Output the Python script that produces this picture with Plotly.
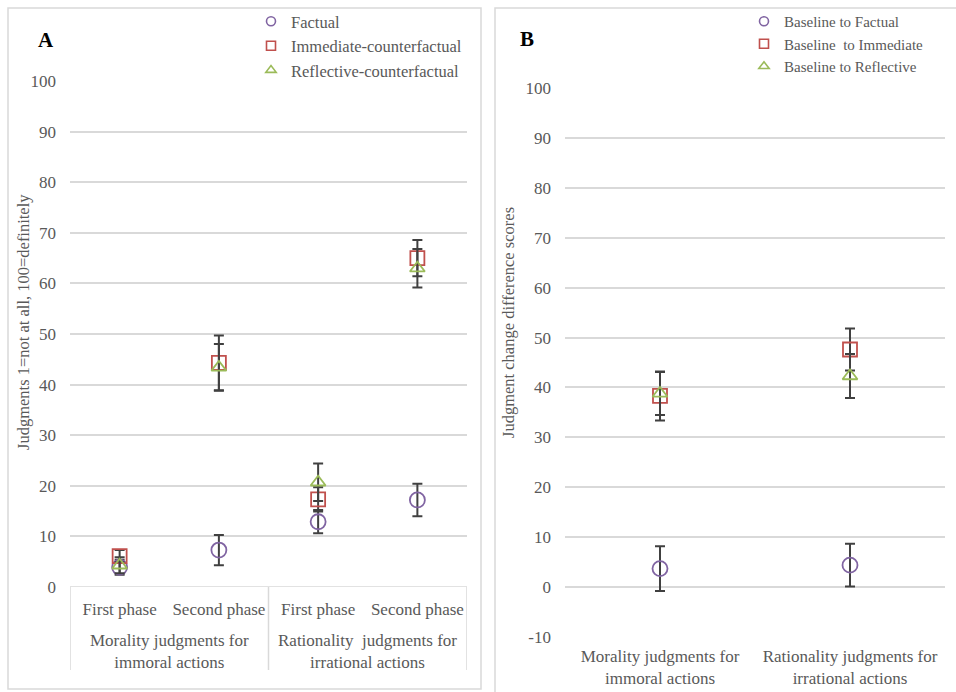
import plotly.graph_objects as go

# ---------------- data ----------------
A_ticks = ["First phase", "Second phase", "First phase", "Second phase"]
A_groups = ["Morality judgments for<br>immoral actions",
            "Rationality  judgments for<br>irrational actions"]
A_factual = [3.9, 7.3, 12.9, 17.2]
A_factual_err = [1.5, 3.0, 2.3, 3.2]
A_immediate = [6.1, 44.3, 17.3, 65.0]
A_immediate_err = [1.2, 5.4, 2.4, 3.6]
A_reflective = [4.3, 43.4, 20.7, 63.0]
A_reflective_err = [1.6, 4.6, 3.7, 3.8]
A_names = ["Factual", "Immediate-counterfactual", "Reflective-counterfactual"]

B_ticks = ["Morality judgments for<br>immoral actions", "Rationality judgments for<br>irrational actions"]
B_factual = [3.7, 4.4]
B_factual_err = [4.5, 4.3]
B_immediate = [38.3, 47.6]
B_immediate_err = [4.9, 4.2]
B_reflective = [38.8, 42.3]
B_reflective_err = [4.3, 4.4]
B_names = ["Baseline to Factual", "Baseline  to Immediate", "Baseline to Reflective"]

y_ticks_A = list(range(0, 101, 10))
y_ticks_B = list(range(-10, 101, 10))

# ---------------- style ----------------
W, H = 956, 692
FONT = "Liberation Serif"
GRAY = "#595959"
GRID = "#d9d9d9"
COLORS = ["#8064A2", "#C0504D", "#9BBB59"]
SYMBOLS = ["circle-open", "square-open", "triangle-up-open"]
SIZES = [15, 14, 13]
ERRC = "#404040"
TS = 17


def px(x):
    return x / W


def py(y):
    return 1 - y / H


fig = go.Figure()

A_x = list(range(len(A_ticks)))
B_x = list(range(len(B_ticks)))

A_series = [(A_factual, A_factual_err), (A_immediate, A_immediate_err), (A_reflective, A_reflective_err)]
B_series = [(B_factual, B_factual_err), (B_immediate, B_immediate_err), (B_reflective, B_reflective_err)]

for panel, series, names, xs, xa, ya, lg in [
    ("A", A_series, A_names, A_x, "x", "y", "legend"),
    ("B", B_series, B_names, B_x, "x2", "y2", "legend2"),
]:
    for i, (vals, errs) in enumerate(series):
        fig.add_trace(go.Scatter(
            x=xs, y=vals, mode="markers", name=names[i], showlegend=False,
            marker=dict(symbol=SYMBOLS[i], size=SIZES[i], color=COLORS[i],
                        line=dict(width=1.8, color=COLORS[i])),
            error_y=dict(type="data", array=errs, visible=True, color=ERRC, thickness=2, width=5),
            xaxis=xa, yaxis=ya,
        ))
    # legend entries (small symbols, no data)
    for i in range(len(series)):
        fig.add_trace(go.Scatter(
            x=[None], y=[None], mode="markers", name=names[i], showlegend=True,
            marker=dict(symbol=SYMBOLS[i], size=9, color=COLORS[i],
                        line=dict(width=1.6, color=COLORS[i])),
            xaxis=xa, yaxis=ya, legend=lg,
        ))

axis_font = dict(family=FONT, size=TS, color=GRAY)

fig.update_layout(
    width=W, height=H,
    margin=dict(l=0, r=0, t=0, b=0, pad=0, autoexpand=False),
    paper_bgcolor="white", plot_bgcolor="white",
    font=dict(family=FONT, color=GRAY),
    xaxis=dict(domain=[px(70), px(467)], range=[-0.5, len(A_ticks) - 0.5],
               tickvals=A_x, ticktext=A_ticks, tickfont=axis_font,
               showgrid=False, zeroline=False, showline=False, ticks="",
               ticklabelstandoff=10, automargin=False),
    yaxis=dict(domain=[py(587), py(81)], range=[0, 100], tickvals=y_ticks_A,
               ticktext=[str(v) for v in y_ticks_A],
               tickfont=axis_font, gridcolor=GRID, gridwidth=1.5, zeroline=False,
               showline=False, ticks="", ticklabelstandoff=13, anchor="x", automargin=False),
    xaxis2=dict(domain=[px(565), px(945)], range=[-0.5, len(B_ticks) - 0.5],
                tickvals=B_x, ticktext=B_ticks, tickfont=axis_font,
                showgrid=False, zeroline=False, showline=False, ticks="",
                ticklabelstandoff=7, anchor="y2", automargin=False),
    yaxis2=dict(domain=[py(637), py(88)], range=[-10, 100], tickvals=y_ticks_B,
                ticktext=[str(v) for v in y_ticks_B],
                tickfont=axis_font, gridcolor=GRID, gridwidth=1.5, zeroline=False,
                showline=False, ticks="", ticklabelstandoff=13, anchor="x2", automargin=False),
    legend=dict(x=px(251), y=py(4), xanchor="left", yanchor="top",
                font=dict(family=FONT, size=16.5, color=GRAY), tracegroupgap=0,
                bgcolor="rgba(0,0,0,0)", itemsizing="trace"),
    legend2=dict(x=px(744), y=py(5), xanchor="left", yanchor="top",
                 font=dict(family=FONT, size=15, color=GRAY), tracegroupgap=0,
                 bgcolor="rgba(0,0,0,0)", itemsizing="trace"),
    showlegend=True,
)

shapes = []
# panel borders
shapes.append(dict(type="rect", xref="paper", yref="paper", x0=px(8), x1=px(481), y0=py(689), y1=py(8),
                   line=dict(color=GRID, width=1.5)))
shapes.append(dict(type="rect", xref="paper", yref="paper", x0=px(495), x1=px(1000), y0=py(720), y1=py(8),
                   line=dict(color=GRID, width=1.5)))
# multi-category box for panel A
shapes.append(dict(type="line", xref="x", yref="y", x0=-0.5, x1=len(A_ticks) - 0.5, y0=0, y1=0,
                   line=dict(color=GRID, width=1.5)))
for xv in [-0.5, 1.5, 3.5]:
    shapes.append(dict(type="line", xref="x", yref="paper", x0=xv, x1=xv, y0=py(670), y1=py(587),
                       line=dict(color=GRID, width=1.5)))
fig.update_layout(shapes=shapes)

annotations = []
for gi, g in enumerate(A_groups):
    annotations.append(dict(text=g, xref="x", yref="paper", x=gi * 2 + 0.5, y=py(651),
                            showarrow=False, font=dict(family=FONT, size=TS, color=GRAY),
                            yanchor="middle", xanchor="center"))
annotations.append(dict(text="<b>A</b>", xref="paper", yref="paper", x=px(46), y=py(40),
                        xanchor="center", yanchor="middle",
                        showarrow=False, font=dict(family=FONT, size=21, color="black")))
annotations.append(dict(text="<b>B</b>", xref="paper", yref="paper", x=px(527), y=py(39),
                        xanchor="center", yanchor="middle",
                        showarrow=False, font=dict(family=FONT, size=21, color="black")))
annotations.append(dict(text="Judgments 1=not at all, 100=definitely", xref="paper", yref="paper",
                        x=px(23), y=py(322), textangle=-90, showarrow=False,
                        xanchor="center", yanchor="middle",
                        font=dict(family=FONT, size=16.5, color=GRAY)))
annotations.append(dict(text="Judgment change difference scores", xref="paper", yref="paper",
                        x=px(508), y=py(323), textangle=-90, showarrow=False,
                        xanchor="center", yanchor="middle",
                        font=dict(family=FONT, size=16.5, color=GRAY)))
fig.update_layout(annotations=annotations)

# remove the browser's default 8px body margin so the 956x692 figure fills the page
fig.write_html("out.html", config={"displayModeBar": False},
               post_script="document.body.style.margin='0px';")
